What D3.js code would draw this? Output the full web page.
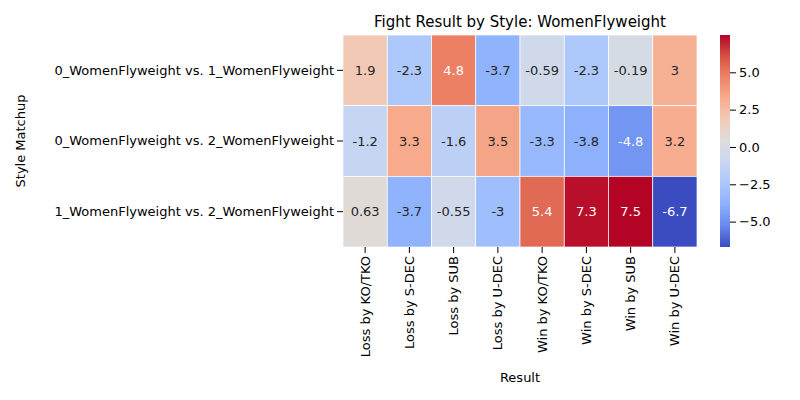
<!DOCTYPE html><html><head><script src="https://cdn.jsdelivr.net/npm/d3@7"></script>
<style>body{margin:0;background:#fff}text{font-family:"DejaVu Sans",sans-serif}</style></head><body><svg id="c" width="800" height="400"></svg><script>
const rows=["0_WomenFlyweight vs. 1_WomenFlyweight","0_WomenFlyweight vs. 2_WomenFlyweight","1_WomenFlyweight vs. 2_WomenFlyweight"];
const cols=["Loss by KO/TKO","Loss by S-DEC","Loss by SUB","Loss by U-DEC","Win by KO/TKO","Win by S-DEC","Win by SUB","Win by U-DEC"];
const values=[[1.9,-2.3,4.8,-3.7,-0.59,-2.3,-0.19,3],[-1.2,3.3,-1.6,3.5,-3.3,-3.8,-4.8,3.2],[0.63,-3.7,-0.55,-3,5.4,7.3,7.5,-6.7]];
const labels=[["1.9","-2.3","4.8","-3.7","-0.59","-2.3","-0.19","3"],["-1.2","3.3","-1.6","3.5","-3.3","-3.8","-4.8","3.2"],["0.63","-3.7","-0.55","-3","5.4","7.3","7.5","-6.7"]];
const cbTicks=[-5,-2.5,0,2.5,5];
const svg=d3.select("#c");
const cw=["#3b4cc0","#6788ee","#8db0fe","#aac7fd","#c9d7f0","#dddddd","#f2cbb7","#f7ac8e","#ee8468","#d65244","#b40426"];
const interp=d3.interpolateRgbBasis?d3.piecewise(d3.interpolateRgb,cw):null;
const all=values.flat(),vmin=d3.min(all),vmax=d3.max(all);
const col=v=>interp((v-vmin)/(vmax-vmin));
const x=d3.scaleBand().domain(cols).range([343,697]);
const y=d3.scaleBand().domain(rows).range([35,247]);
const g=svg.append("g");
values.forEach((r,i)=>r.forEach((v,j)=>{
 const c=col(v);
 g.append("rect").attr("x",x(cols[j])).attr("y",y(rows[i])).attr("width",x.bandwidth()).attr("height",y.bandwidth()).attr("fill",c).attr("stroke","#fff").attr("stroke-width",0.7);
 const rgb=d3.rgb(c);const f=t=>{t/=255;return t<=0.03928?t/12.92:Math.pow((t+0.055)/1.055,2.4)};
 const L=0.2126*f(rgb.r)+0.7152*f(rgb.g)+0.0722*f(rgb.b);
 g.append("text").attr("x",x(cols[j])+x.bandwidth()/2).attr("y",y(rows[i])+y.bandwidth()/2).attr("dy","0.35em").attr("text-anchor","middle").attr("font-size",13).attr("fill",L>0.408?"#262626":"#fff").text(labels[i][j]);
}));
svg.append("g").attr("transform","translate(343,0)").call(d3.axisLeft(y).tickSizeOuter(0)).call(a=>{a.select(".domain").remove();a.selectAll("text").attr("font-size",13).attr("fill","#000");});
svg.append("g").attr("transform","translate(0,247)").call(d3.axisBottom(x).tickSizeOuter(0)).call(a=>{a.select(".domain").remove();a.selectAll("text").attr("font-size",13).attr("fill","#000").attr("transform","rotate(-90)").attr("text-anchor","end").attr("x",-9).attr("y",0).attr("dy","0.35em");});
svg.append("text").attr("x",520).attr("y",27).attr("text-anchor","middle").attr("font-size",15).text("Fight Result by Style: WomenFlyweight");
svg.append("text").attr("x",520).attr("y",382).attr("text-anchor","middle").attr("font-size",13).text("Result");
svg.append("text").attr("transform","translate(25,141) rotate(-90)").attr("text-anchor","middle").attr("font-size",13).text("Style Matchup");
const cy=d3.scaleLinear().domain([vmin,vmax]).range([247,35]);
const defs=svg.append("defs").append("linearGradient").attr("id","gr").attr("x1",0).attr("y1",1).attr("x2",0).attr("y2",0);
cw.forEach((c,i)=>defs.append("stop").attr("offset",i/(cw.length-1)).attr("stop-color",c));
svg.append("rect").attr("x",720).attr("y",35).attr("width",10).attr("height",212).attr("fill","url(#gr)");
svg.append("g").attr("transform","translate(730,0)").call(d3.axisRight(cy).tickValues(cbTicks).tickFormat(d3.format(".1f")).tickSizeOuter(0)).call(a=>{a.select(".domain").remove();a.selectAll("text").attr("font-size",13).attr("fill","#000").text(d=>d3.format(".1f")(d).replace("-","−"));});
</script></body></html>
